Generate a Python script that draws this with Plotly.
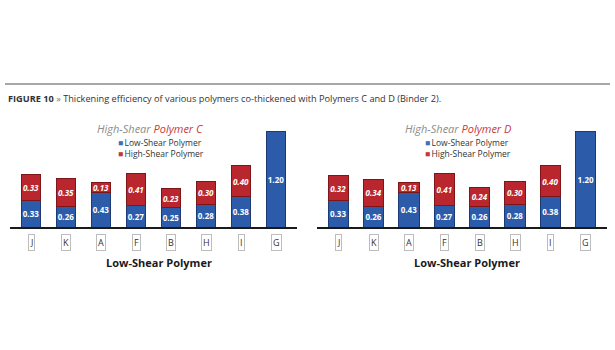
import plotly.graph_objects as go

categories = ["J", "K", "A", "F", "B", "H", "I", "G"]

# Polymer C panel
low_shear_c = [0.33, 0.26, 0.43, 0.27, 0.25, 0.28, 0.38, 1.20]
high_shear_c = [0.33, 0.35, 0.13, 0.41, 0.23, 0.30, 0.40, None]

# Polymer D panel
low_shear_d = [0.33, 0.26, 0.43, 0.27, 0.26, 0.28, 0.38, 1.20]
high_shear_d = [0.32, 0.34, 0.13, 0.41, 0.24, 0.30, 0.40, None]

panel_names = ["C", "D"]
series_names = ["Low-Shear Polymer", "High-Shear Polymer"]

BLUE = "#2c5ba9"
BLUE_EDGE = "#1b3a76"
RED = "#b9262d"
RED_EDGE = "#7d1519"
W, H = 615, 350

fig = go.Figure()

panels = [
    (low_shear_c, high_shear_c, "x", "y"),
    (low_shear_d, high_shear_d, "x2", "y2"),
]

for low, high, xa, ya in panels:
    fig.add_trace(go.Bar(
        x=categories, y=low, name=series_names[0],
        xaxis=xa, yaxis=ya, showlegend=False,
        marker=dict(color=BLUE, line=dict(color=BLUE_EDGE, width=1)),
        text=[f"{v:.2f}" for v in low], textposition="inside",
        insidetextanchor="middle", textangle=0, constraintext="none",
        textfont=dict(family="Open Sans", size=8, color="white", weight="bold"),
        width=0.57,
    ))
    fig.add_trace(go.Bar(
        x=categories, y=high, name=series_names[1],
        xaxis=xa, yaxis=ya, showlegend=False,
        marker=dict(color=RED, line=dict(color=RED_EDGE, width=1)),
        text=[f"{v:.2f}" if v is not None else "" for v in high],
        textposition="inside", insidetextanchor="middle",
        textangle=0, constraintext="none",
        textfont=dict(family="Open Sans", size=8, color="white",
                      weight="bold", style="italic"),
        width=0.57,
    ))

ydom = [(H - 227) / H, (H - 124) / H]
axis_common = dict(range=[-0.6, 7.6], showticklabels=False, ticks="",
                   showline=True, linecolor="#1a1a1a", linewidth=2,
                   showgrid=False, zeroline=False, fixedrange=True)
yaxis_common = dict(range=[0, 1.3], domain=ydom, visible=False,
                    showgrid=False, zeroline=False, fixedrange=True)

left_dom = [10 / W, 297 / W]
right_dom = [317 / W, 607 / W]

fig.update_layout(
    width=W, height=H,
    margin=dict(l=0, r=0, t=0, b=0),
    paper_bgcolor="white", plot_bgcolor="white",
    barmode="stack", showlegend=False,
    xaxis=dict(domain=left_dom, anchor="y", **axis_common),
    yaxis=dict(anchor="x", **yaxis_common),
    xaxis2=dict(domain=right_dom, anchor="y2", **axis_common),
    yaxis2=dict(anchor="x2", **yaxis_common),
)

# Rule above the figure caption
fig.add_shape(type="line", xref="paper", yref="paper",
              x0=5 / W, x1=610 / W, y0=(H - 84) / H, y1=(H - 84) / H,
              line=dict(color="#8a8a8a", width=1.5))

fig.add_annotation(
    xref="paper", yref="paper", x=6 / W, y=(H - 98) / H,
    xanchor="left", yanchor="middle", showarrow=False,
    text="<b>FIGURE 10</b> <span style='color:#777'>»</span> Thickening efficiency of various polymers co-thickened with Polymers C and D (Binder 2).",
    font=dict(family="Open Sans", size=9.2, color="#333"),
)

legend_colors = ["#3a70be", "#c6373f"]
centers = [(150, "x", 116), (458, "x2", 423)]
for (cx, xa, lx), name in zip(centers, panel_names):
    # Panel heading
    fig.add_annotation(
        xref="paper", yref="paper", x=cx / W, y=(H - 128) / H,
        xanchor="center", yanchor="middle", showarrow=False,
        text=f"<i><span style='color:#8c8c8c'>High-Shear</span> "
             f"<span style='color:#c9373d'>Polymer {name}</span></i>",
        font=dict(family="Open Sans", size=11),
    )
    # Series key
    for i, (sname, col) in enumerate(zip(series_names, legend_colors)):
        fig.add_annotation(
            xref="paper", yref="paper", x=lx / W, y=(H - 142 - 11 * i) / H,
            xanchor="left", yanchor="middle", showarrow=False,
            text=f"<span style='color:{col}'>■</span>\u2009{sname}",
            font=dict(family="Open Sans", size=8.5, color="#333"),
        )
    # Axis caption
    fig.add_annotation(
        xref="paper", yref="paper", x=(cx + 9) / W, y=(H - 262) / H,
        xanchor="center", yanchor="middle", showarrow=False,
        text="<b>Low-Shear Polymer</b>",
        font=dict(family="Open Sans", size=11, color="#1a1a1a"),
    )
    # Boxed category labels
    for c in categories:
        fig.add_annotation(
            xref=xa, yref="paper", x=c, y=(H - 242) / H,
            xanchor="center", yanchor="middle", showarrow=False,
            text=c, bgcolor="white", bordercolor="#bdbdbd", borderwidth=1,
            borderpad=1,
            font=dict(family="Open Sans", size=9, color="#333"),
        )

fig.write_html("out.html")
